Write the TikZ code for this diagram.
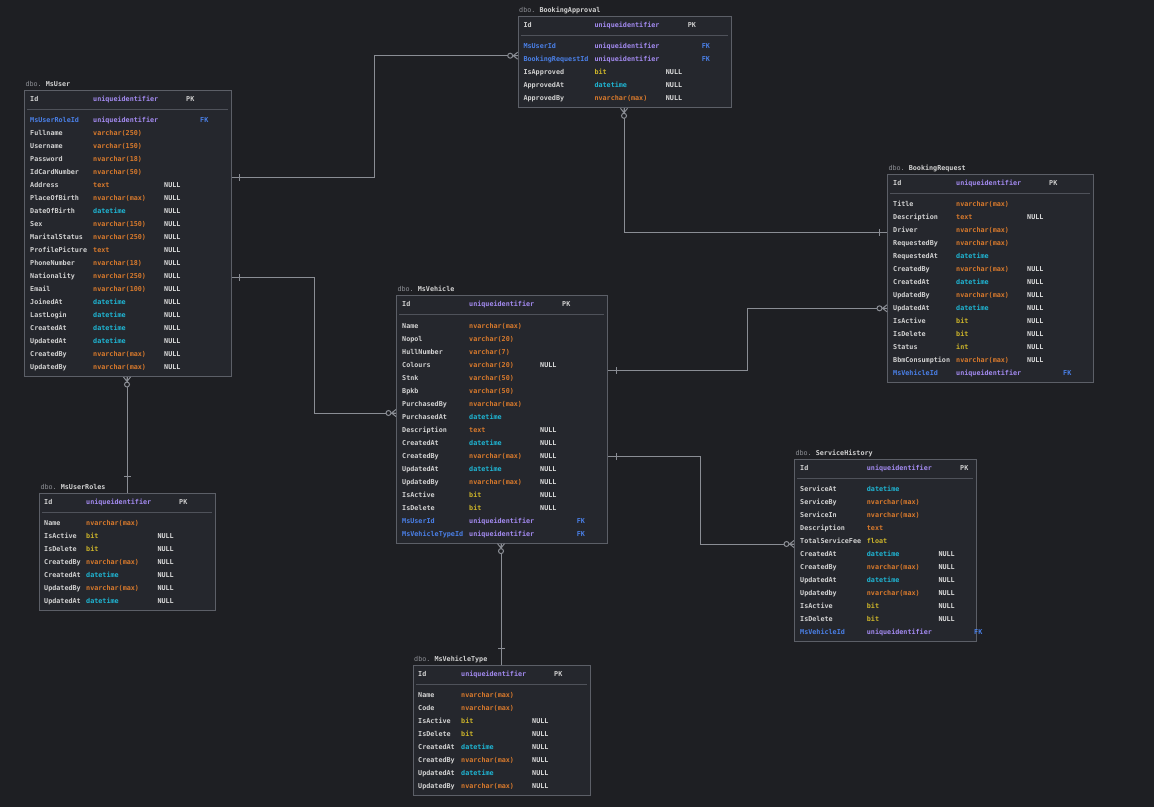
\documentclass[tikz,border=0pt]{standalone}
\usepackage{fontspec}
\setmonofont{DejaVu Sans Mono}
\usepackage{xcolor}
\usetikzlibrary{positioning, calc}

\definecolor{bgc}{HTML}{1E1F23}
\definecolor{boxfill}{HTML}{25272D}
\definecolor{boxline}{HTML}{5C5F67}
\definecolor{sepc}{HTML}{4F525A}
\definecolor{relc}{HTML}{8A8D94}
\definecolor{nm}{HTML}{D2D2D2}
\definecolor{fk}{HTML}{4A80E8}
\definecolor{uid}{HTML}{A38AF0}
\definecolor{chr}{HTML}{D97A2C}
\definecolor{dt}{HTML}{1FB6D4}
\definecolor{bt}{HTML}{CDB52A}
\definecolor{nullc}{HTML}{DCDCDC}
\definecolor{keyc}{HTML}{CFCFCF}
\definecolor{dboc}{HTML}{8E9096}

\tikzset{
  manyend/.pic={
    \draw[rel] (-4.5,0) -- (0,3.5) (-4.5,0) -- (0,0) (-4.5,0) -- (0,-3.5);
    \draw[rel, fill=bgc] (-7.5,0) circle[radius=2.5pt];
  },
  oneend/.pic={\draw[rel] (-8,-3.5) -- (-8,3.5);},
  oneendfar/.pic={\draw[rel] (-16,-3.5) -- (-16,3.5);}
}

% one table: name, left, top, width, rows, title, row list
\newcommand\erdtable[7]{%
  \node[tblbox, minimum width=#4pt, minimum height={39.3pt+13pt*(#5-1)}] (#1) at (#2,#3) {};
  \begin{scope}[shift={(#2,#3)}]
    \node[fld] (#1-ttl) at (1.3,-3.5) {{\mdseries\color{dboc}dbo.} #6};
    \node[fld] (#1-id) at (\colN,11.5) {Id};
    \node[fld, text=uid] (#1-idt) at (\colT,11.5) {uniqueidentifier};
    \node[fld, text=keyc] (#1-pk) at (\colK,11.5) {PK};
    \draw[sepl] (3,19.5) -- ({#4-3},19.5);
    \foreach \fn/\fnc/\ft/\ftc/\fz/\fk [count=\i from 0] in {#7} {
      \node[fld, text=\fnc] (#1-\i-n) at (\colN,{32.8+13*\i}) {\fn};
      \node[fld, text=\ftc] (#1-\i-t) at (\colT,{32.8+13*\i}) {\ft};
      \node[fld, text=nullc] (#1-\i-z) at (\colZ,{32.8+13*\i}) {\fz};
      \node[fld, text=fk] (#1-\i-k) at (\colF,{32.8+13*\i}) {\fk};
    }
  \end{scope}
}

\begin{document}
\begin{tikzpicture}[x=1pt, y=-1pt,
  tblbox/.style={draw=boxline, fill=boxfill, line width=1pt, anchor=north west, inner sep=0pt},
  fld/.style={font=\ttfamily\bfseries\fontsize{6.75}{8}\selectfont, text=nm, anchor=base west, inner sep=0pt},
  sepl/.style={draw=sepc, line width=1pt},
  rel/.style={draw=relc, line width=1pt}]

\fill[bgc] (0,0) rectangle (1154,807);
\useasboundingbox (0,0) rectangle (1154,807);

% tables
\def\colN{6}\def\colT{69}\def\colZ{140}\def\colK{162}\def\colF{176}
\erdtable{msuser}{24}{89.7}{206.7}{20}{MsUser}{
  MsUserRoleId/fk/uniqueidentifier/uid/{}/FK,
  Fullname/nm/varchar(250)/chr/{}/{},
  Username/nm/varchar(150)/chr/{}/{},
  Password/nm/nvarchar(18)/chr/{}/{},
  IdCardNumber/nm/nvarchar(50)/chr/{}/{},
  Address/nm/text/chr/NULL/{},
  PlaceOfBirth/nm/nvarchar(max)/chr/NULL/{},
  DateOfBirth/nm/datetime/dt/NULL/{},
  Sex/nm/nvarchar(150)/chr/NULL/{},
  MaritalStatus/nm/nvarchar(250)/chr/NULL/{},
  ProfilePicture/nm/text/chr/NULL/{},
  PhoneNumber/nm/nvarchar(18)/chr/NULL/{},
  Nationality/nm/nvarchar(250)/chr/NULL/{},
  Email/nm/nvarchar(100)/chr/NULL/{},
  JoinedAt/nm/datetime/dt/NULL/{},
  LastLogin/nm/datetime/dt/NULL/{},
  CreatedAt/nm/datetime/dt/NULL/{},
  UpdatedAt/nm/datetime/dt/NULL/{},
  CreatedBy/nm/nvarchar(max)/chr/NULL/{},
  UpdatedBy/nm/nvarchar(max)/chr/NULL/{}}

\def\colN{5.6}\def\colT{76.6}\def\colZ{148}\def\colK{170}\def\colF{184}
\erdtable{bkappr}{517.7}{16}{213.3}{5}{BookingApproval}{
  MsUserId/fk/uniqueidentifier/uid/{}/FK,
  BookingRequestId/fk/uniqueidentifier/uid/{}/FK,
  IsApproved/nm/bit/bt/NULL/{},
  ApprovedAt/nm/datetime/dt/NULL/{},
  ApprovedBy/nm/nvarchar(max)/chr/NULL/{}}

\def\colN{6}\def\colT{69}\def\colZ{140}\def\colK{162}\def\colF{176}
\erdtable{bkreq}{887}{173.7}{206}{14}{BookingRequest}{
  Title/nm/nvarchar(max)/chr/{}/{},
  Description/nm/text/chr/NULL/{},
  Driver/nm/nvarchar(max)/chr/{}/{},
  RequestedBy/nm/nvarchar(max)/chr/{}/{},
  RequestedAt/nm/datetime/dt/{}/{},
  CreatedBy/nm/nvarchar(max)/chr/NULL/{},
  CreatedAt/nm/datetime/dt/NULL/{},
  UpdatedBy/nm/nvarchar(max)/chr/NULL/{},
  UpdatedAt/nm/datetime/dt/NULL/{},
  IsActive/nm/bit/bt/NULL/{},
  IsDelete/nm/bit/bt/NULL/{},
  Status/nm/int/bt/NULL/{},
  BbmConsumption/nm/nvarchar(max)/chr/NULL/{},
  MsVehicleId/fk/uniqueidentifier/uid/{}/FK}

\def\colN{6}\def\colT{73}\def\colZ{144}\def\colK{166}\def\colF{180.7}
\erdtable{msveh}{396}{295.3}{211}{17}{MsVehicle}{
  Name/nm/nvarchar(max)/chr/{}/{},
  Nopol/nm/varchar(20)/chr/{}/{},
  HullNumber/nm/varchar(7)/chr/{}/{},
  Colours/nm/varchar(20)/chr/NULL/{},
  Stnk/nm/varchar(50)/chr/{}/{},
  Bpkb/nm/varchar(50)/chr/{}/{},
  PurchasedBy/nm/nvarchar(max)/chr/{}/{},
  PurchasedAt/nm/datetime/dt/{}/{},
  Description/nm/text/chr/NULL/{},
  CreatedAt/nm/datetime/dt/NULL/{},
  CreatedBy/nm/nvarchar(max)/chr/NULL/{},
  UpdatedAt/nm/datetime/dt/NULL/{},
  UpdatedBy/nm/nvarchar(max)/chr/NULL/{},
  IsActive/nm/bit/bt/NULL/{},
  IsDelete/nm/bit/bt/NULL/{},
  MsUserId/fk/uniqueidentifier/uid/{}/FK,
  MsVehicleTypeId/fk/uniqueidentifier/uid/{}/FK}

\def\colN{5}\def\colT{47}\def\colZ{118.3}\def\colK{140}\def\colF{154}
\erdtable{roles}{39}{492.5}{176}{7}{MsUserRoles}{
  Name/nm/nvarchar(max)/chr/{}/{},
  IsActive/nm/bit/bt/NULL/{},
  IsDelete/nm/bit/bt/NULL/{},
  CreatedBy/nm/nvarchar(max)/chr/NULL/{},
  CreatedAt/nm/datetime/dt/NULL/{},
  UpdatedBy/nm/nvarchar(max)/chr/NULL/{},
  UpdatedAt/nm/datetime/dt/NULL/{}}

\def\colN{6}\def\colT{72.7}\def\colZ{144.3}\def\colK{166}\def\colF{180}
\erdtable{svchist}{794}{458.5}{182}{12}{ServiceHistory}{
  ServiceAt/nm/datetime/dt/{}/{},
  ServiceBy/nm/nvarchar(max)/chr/{}/{},
  ServiceIn/nm/nvarchar(max)/chr/{}/{},
  Description/nm/text/chr/{}/{},
  TotalServiceFee/nm/float/bt/{}/{},
  CreatedAt/nm/datetime/dt/NULL/{},
  CreatedBy/nm/nvarchar(max)/chr/NULL/{},
  UpdatedAt/nm/datetime/dt/NULL/{},
  Updatedby/nm/nvarchar(max)/chr/NULL/{},
  IsActive/nm/bit/bt/NULL/{},
  IsDelete/nm/bit/bt/NULL/{},
  MsVehicleId/fk/uniqueidentifier/uid/{}/FK}

\def\colN{5.3}\def\colT{48.3}\def\colZ{119.3}\def\colK{141.3}\def\colF{155}
\erdtable{vtype}{412.7}{664.5}{177}{8}{MsVehicleType}{
  Name/nm/nvarchar(max)/chr/{}/{},
  Code/nm/nvarchar(max)/chr/{}/{},
  IsActive/nm/bit/bt/NULL/{},
  IsDelete/nm/bit/bt/NULL/{},
  CreatedAt/nm/datetime/dt/NULL/{},
  CreatedBy/nm/nvarchar(max)/chr/NULL/{},
  UpdatedAt/nm/datetime/dt/NULL/{},
  UpdatedBy/nm/nvarchar(max)/chr/NULL/{}}

% relations
\draw[rel] (msuser.east |- 0,177) -- (374,177) -- (374,55.7) -- (bkappr.west |- 0,55.7);
\pic[rotate=180] at (msuser.east |- 0,177) {oneend};
\pic at (bkappr.west |- 0,55.7) {manyend};

\draw[rel] (bkappr.south -| 624,0) -- (624,232) -- (bkreq.west |- 0,232);
\pic[rotate=90] at (bkappr.south -| 624,0) {manyend};
\pic at (bkreq.west |- 0,232) {oneend};

\draw[rel] (msuser.east |- 0,277) -- (314,277) -- (314,413) -- (msveh.west |- 0,413);
\pic[rotate=180] at (msuser.east |- 0,277) {oneend};
\pic at (msveh.west |- 0,413) {manyend};

\draw[rel] (msveh.east |- 0,370) -- (747,370) -- (747,308.3) -- (bkreq.west |- 0,308.3);
\pic[rotate=180] at (msveh.east |- 0,370) {oneend};
\pic at (bkreq.west |- 0,308.3) {manyend};

\draw[rel] (msveh.east |- 0,456.7) -- (700.3,456.7) -- (700.3,544) -- (svchist.west |- 0,544);
\pic[rotate=180] at (msveh.east |- 0,456.7) {oneend};
\pic at (svchist.west |- 0,544) {manyend};

\draw[rel] (msuser.south -| 127,0) -- (roles.north -| 127,0);
\pic[rotate=90] at (msuser.south -| 127,0) {manyend};
\pic[rotate=-90] at (roles.north -| 127,0) {oneendfar};

\draw[rel] (msveh.south -| 501,0) -- (vtype.north -| 501,0);
\pic[rotate=90] at (msveh.south -| 501,0) {manyend};
\pic[rotate=-90] at (vtype.north -| 501,0) {oneendfar};

\end{tikzpicture}
\end{document}
